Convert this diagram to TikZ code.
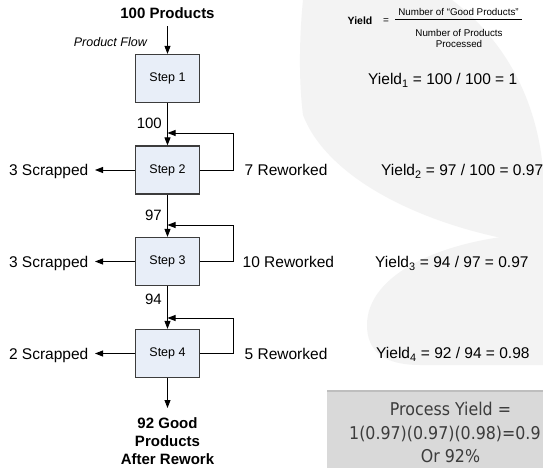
\documentclass[tikz,border=0pt]{standalone}
\usepackage{fontspec}
\setmainfont{Liberation Sans}
\newfontfamily\resfont[FakeStretch=0.9]{DejaVu Sans}
\usetikzlibrary{arrows.meta}
\definecolor{stepfill}{RGB}{232,238,248}
\definecolor{stepline}{RGB}{60,60,60}
\definecolor{wm}{RGB}{243,243,243}
\definecolor{resfill}{RGB}{217,217,217}
\definecolor{resedge}{RGB}{190,190,190}
\definecolor{restext}{RGB}{60,60,60}
\begin{document}
\begin{tikzpicture}[x=1pt,y=-1pt,
  stepbox/.style={draw=stepline, line width=1.2pt, fill=stepfill, minimum width=64pt, minimum height=48pt, inner sep=0pt, font=\fontsize{12.5}{14}\selectfont},
  arr/.style={line width=0.9pt, -{Triangle[length=8pt,width=6pt]}},
  lbl/.style={font=\fontsize{15.5}{18}\selectfont, inner sep=0pt},
  num/.style={font=\fontsize{15}{18}\selectfont, inner sep=0pt, anchor=base east},
  yld/.style={font=\fontsize{15.5}{18}\selectfont, inner sep=0pt, anchor=base west},
  small/.style={font=\fontsize{9.8}{11}\selectfont, inner sep=0pt, anchor=base},
  restxt/.style={font=\resfont\fontsize{17.6}{20}\selectfont, text=restext, inner sep=0pt, anchor=base}
]
\useasboundingbox (0,0) rectangle (543,468);
\fill[white] (0,0) rectangle (543,468);
% watermark
\fill[wm] (303,0) -- (452,0) .. controls (505,40) and (537,100) .. (543,170) -- (543,245)
  .. controls (440,232) and (330,185) .. (303,115) .. controls (298,75) and (300,30) .. (303,0) -- cycle;
\fill[wm] (543,233) .. controls (440,238) and (367,275) .. (367,325)
  .. controls (367,352) and (385,365) .. (420,365) -- (543,365) -- cycle;

% steps
\node[stepbox] (s1) at (167.5,78.5) {Step 1};
\node[stepbox] (s2) at (167.5,170) {Step 2};
\node[stepbox] (s3) at (167.5,261.5) {Step 3};
\node[stepbox] (s4) at (167.5,353.5) {Step 4};

% top input
\node[font=\bfseries\fontsize{15}{18}\selectfont, inner sep=0pt, anchor=base] (top) at (167.5,18.3) {100 Products};
\node[font=\itshape\fontsize{12.5}{14}\selectfont, inner sep=0pt, anchor=base east] (flow) at (147,46.5) {Product Flow};
\draw[arr, shorten <=7.5pt] (top.south) -- (s1.north);

% main flow
\coordinate (j2) at (167.5,133);
\coordinate (j3) at (167.5,225);
\coordinate (j4) at (167.5,318);
\draw[arr] (s1.south) -- (s2.north);
\draw[arr] (s2.south) -- (s3.north);
\draw[arr] (s3.south) -- (s4.north);
\node[num] (n100) at (162,128.4) {100};
\node[num] (n97) at (162,220.6) {97};
\node[num] (n94) at (162,304.3) {94};

% rework loops
\draw[arr] (s2.east) -- ++(33,0) |- (j2);
\draw[arr] (s3.east) -- ++(33,0) |- (j3);
\draw[arr] (s4.east) -- ++(33,0) |- (j4);
\node[lbl, anchor=base west] (r2) at (244.5,175.6) {7 Reworked};
\node[lbl, anchor=base west] (r3) at (242.5,267.1) {10 Reworked};
\node[lbl, anchor=base west] (r4) at (244.5,359.1) {5 Reworked};

% scrap
\node[lbl, anchor=base east] (c2) at (88.5,175.6) {3 Scrapped};
\node[lbl, anchor=base east] (c3) at (88.5,267.1) {3 Scrapped};
\node[lbl, anchor=base east] (c4) at (88.5,359.1) {2 Scrapped};
\draw[arr, shorten >=6.5pt] (s2.west) -- (s2.west -| c2.east);
\draw[arr, shorten >=6.5pt] (s3.west) -- (s3.west -| c3.east);
\draw[arr, shorten >=6.5pt] (s4.west) -- (s4.west -| c4.east);

% output
\node[font=\bfseries\fontsize{15}{18}\selectfont, inner sep=0pt, anchor=north, align=center] (res) at (167.5,417.3) {92 Good\\Products\\After Rework};
\draw[arr, shorten >=9.3pt] (s4.south) -- (res.north);

% yield formula
\node[font=\bfseries\fontsize{10.5}{12}\selectfont, inner sep=0pt, anchor=base] (yw) at (360,24.8) {Yield};
\node[font=\fontsize{10}{12}\selectfont, inner sep=0pt] (eq) at (386,21.5) {=};
\node[small] (numer) at (458.5,16) {Number of “Good Products”};
\node[small] (den1) at (459,37) {Number of Products};
\node[small] (den2) at (459,47.7) {Processed};
\draw[line width=1pt] (395,20) -- (522,20);

\node[yld] (y1) at (368,84.6) {Yield\textsubscript{1} = 100 / 100 = 1};
\node[yld] (y2) at (381,175.6) {Yield\textsubscript{2} = 97 / 100 = 0.97};
\node[yld] (y3) at (375,267.6) {Yield\textsubscript{3} = 94 / 97 = 0.97};
\node[yld] (y4) at (376,358.6) {Yield\textsubscript{4} = 92 / 94 = 0.98};

% process yield box
\fill[resfill] (327,390) rectangle (543,468);
\draw[resedge, line width=2pt] (327,391) -- (543,391);
\node[restxt] (p1) at (450.5,415.5) {Process Yield =};
\node[restxt, anchor=base west] (p2) at (349,439.5) {1(0.97)(0.97)(0.98)=0.9};
\node[restxt] (p3) at (450.5,462.5) {Or 92\%};
\end{tikzpicture}
\end{document}
